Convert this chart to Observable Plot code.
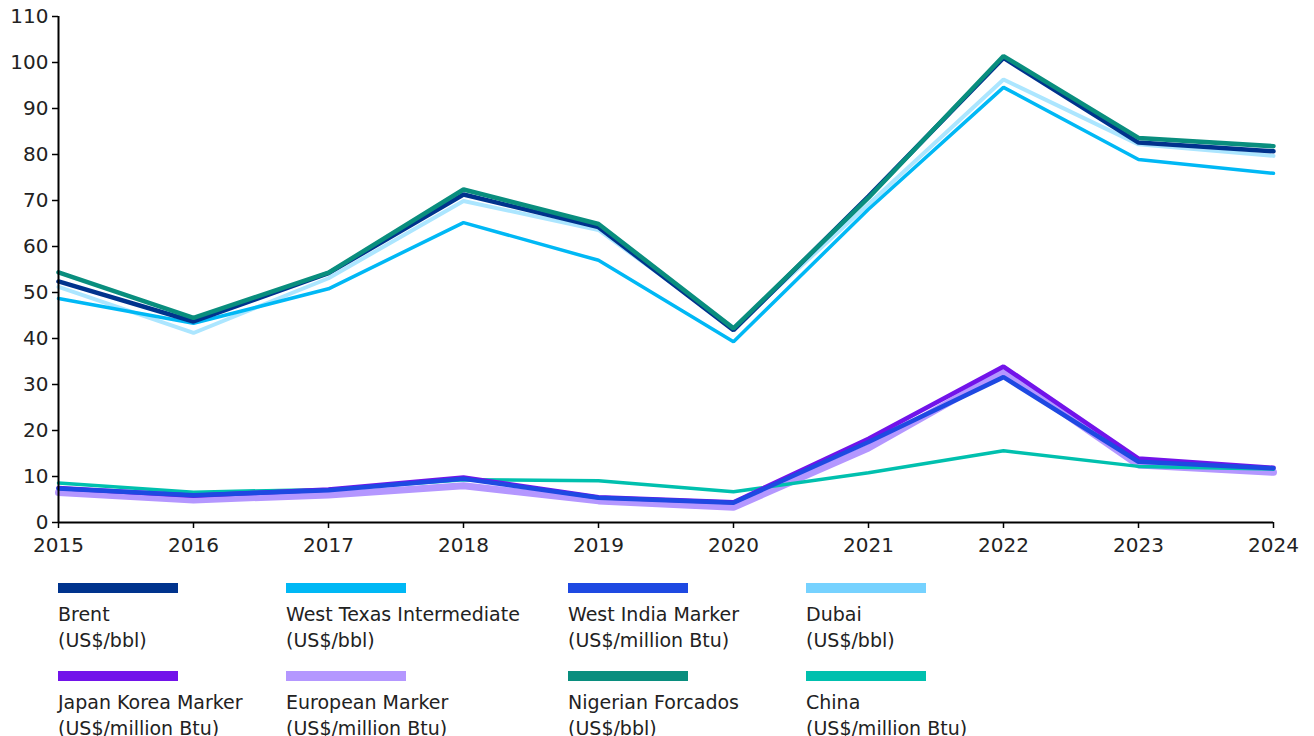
<!DOCTYPE html>
<html><head><meta charset="utf-8">
<script src="https://cdn.jsdelivr.net/npm/d3@7"></script>
<script src="https://cdn.jsdelivr.net/npm/@observablehq/plot@0.6"></script>
<style>
body{margin:0;background:#fff;font-family:"DejaVu Sans",Arial,sans-serif;}
#chart{position:absolute;left:0;top:0;}
.leg{position:absolute;font-size:19px;line-height:26px;color:#222;letter-spacing:0px;}
.sw{position:absolute;width:120px;height:10px;}
</style></head><body>
<div id="chart"></div>
<div id="legend"></div>
<script>
const years = [2015,2016,2017,2018,2019,2020,2021,2022,2023,2024];
const seriesNames = ["Brent","West Texas Intermediate","West India Marker","Dubai","Japan Korea Marker","European Marker","Nigerian Forcados","China"];
const units = ["(US$/bbl)","(US$/bbl)","(US$/million Btu)","(US$/bbl)","(US$/million Btu)","(US$/million Btu)","(US$/bbl)","(US$/million Btu)"];
const brent = [52.4,43.7,54.2,71.3,64.2,41.8,70.9,101.0,82.6,80.7];
const wti = [48.7,43.3,50.8,65.2,57.0,39.3,68.1,94.6,78.9,75.9];
const westIndia = [7.4,5.9,7.0,9.5,5.4,4.3,17.5,31.6,13.2,11.8];
const dubai = [51.2,41.2,53.1,69.9,63.6,42.3,69.2,96.3,82.2,79.7];
const jkm = [7.5,5.8,7.2,9.8,5.5,4.4,18.2,33.9,13.9,11.9];
const european = [6.5,4.9,6.0,8.0,4.7,3.3,16.2,32.8,12.5,10.9];
const nigerian = [54.4,44.5,54.3,72.4,64.9,42.2,70.6,101.4,83.6,81.8];
const china = [8.6,6.6,7.2,9.3,9.1,6.7,10.8,15.6,12.2,11.6];
const values = [brent,wti,westIndia,dubai,jkm,european,nigerian,china];
const colors = ["#00338D","#00B8F5","#1E49E2","#76D2FF","#7213EA","#B497FF","#098E7E","#00C0AE"];
const lineColors = ["#00338D","#00B8F5","#1E49E2","#ACE6FF","#7213EA","#B497FF","#098E7E","#00C0AE"];
const widths = [4.5,3.5,4.5,4,4.5,7,4.5,3.5];
const drawOrder = [5,7,4,2,3,1,0,6];
const yTicks = d3.range(0,111,10);

const data = [];
seriesNames.forEach((s,i)=>years.forEach((y,j)=>data.push({series:s, year:y, value:values[i][j]})));

const marks = drawOrder.map(i => Plot.line(data.filter(d=>d.series===seriesNames[i]), {x:"year", y:"value", stroke:lineColors[i], strokeWidth:widths[i], strokeLinejoin:"miter"}));

const chart = Plot.plot({
  width:1314, height:565,
  marginLeft:58, marginRight:41, marginTop:16, marginBottom:43,
  style:{fontFamily:"DejaVu Sans, Arial, sans-serif", fontSize:"20px", color:"#222"},
  x:{domain:[2015,2024]},
  y:{domain:[0,110]},
  marks:[
    ...marks,
    Plot.axisY({ticks:yTicks, tickSize:6, tickPadding:4, label:null, stroke:"#000", strokeWidth:1.5}),
    Plot.axisX({ticks:years, tickFormat:d=>String(d), tickSize:6, tickPadding:9, label:null, stroke:"#000", strokeWidth:1.5}),
    Plot.ruleX([2015],{stroke:"#000", strokeWidth:2}),
    Plot.ruleY([0],{stroke:"#000", strokeWidth:2})
  ]
});
document.getElementById("chart").appendChild(chart);

const legX = [58,286,568,806];
const legY = [583,671];
const leg = document.getElementById("legend");
seriesNames.forEach((s,i)=>{
  const col = i%4, row = Math.floor(i/4);
  const sw = document.createElement("div");
  sw.className="sw"; sw.style.left=legX[col]+"px"; sw.style.top=legY[row]+"px"; sw.style.background=colors[i];
  leg.appendChild(sw);
  const t = document.createElement("div");
  t.className="leg"; t.style.left=legX[col]+"px"; t.style.top=(legY[row]+18)+"px";
  t.innerHTML = s+"<br>"+units[i];
  leg.appendChild(t);
});
</script></body></html>
